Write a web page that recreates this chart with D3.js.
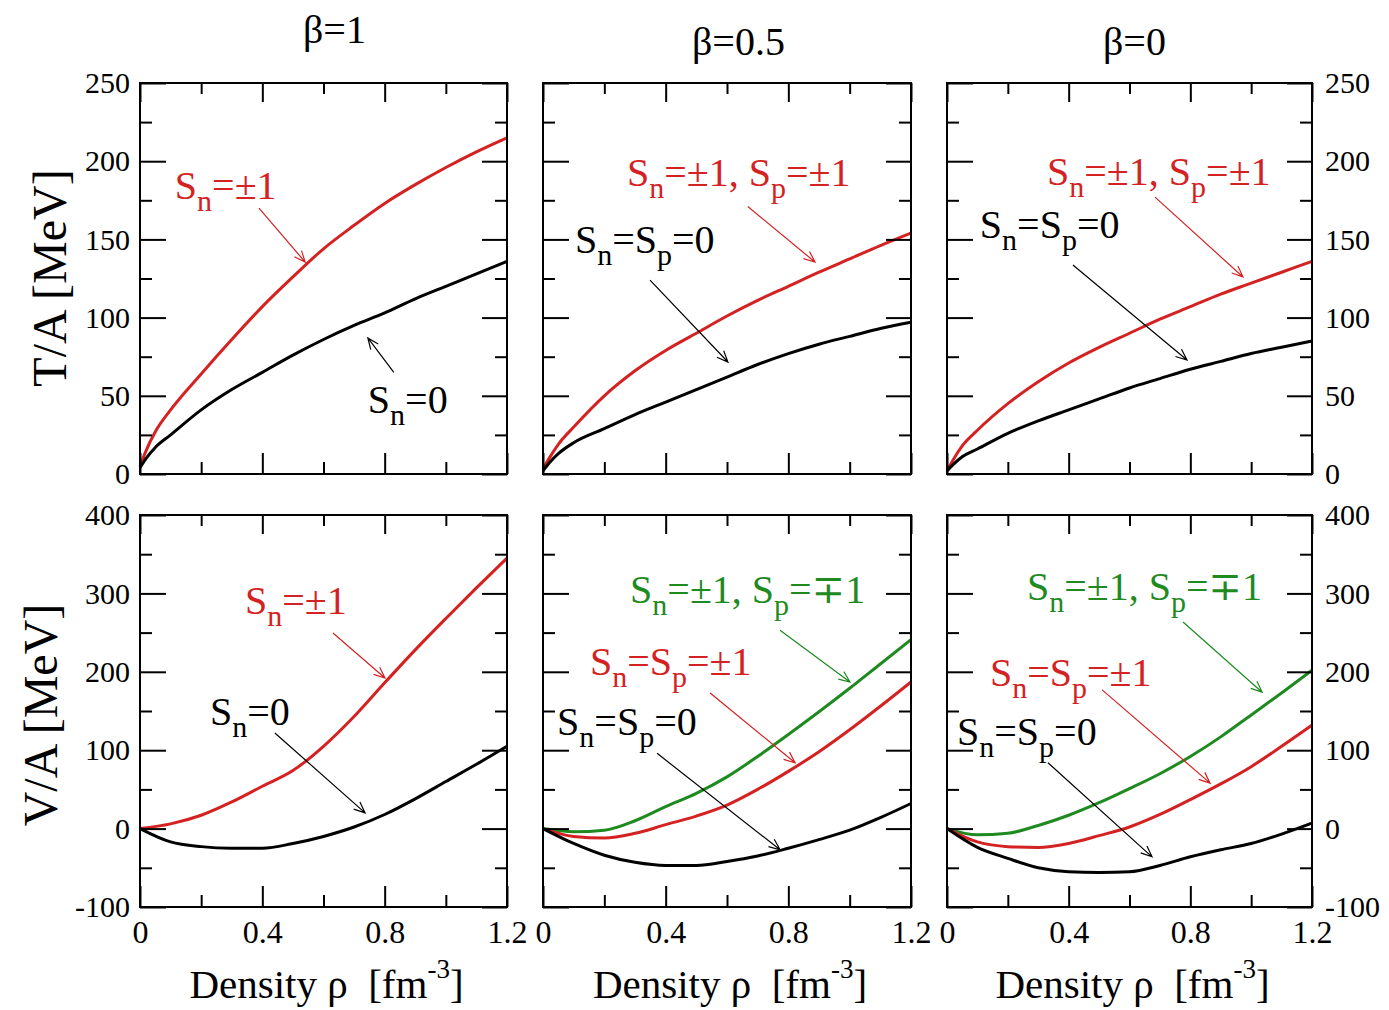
<!DOCTYPE html>
<html>
  <head>
    <meta charset="utf-8">
    <style>
      body { margin: 0; background: #fff; }
      text { font-family: "Liberation Serif", "Times New Roman", "DejaVu Serif", serif; }
    </style>
  </head>
  <body>
    <svg width="1389" height="1010"></svg>
    <script src="https://d3js.org/d3.v7.min.js"></script>
    <script>
      // density grids
      var rhoT = [0, 0.02, 0.05, 0.1, 0.2, 0.3, 0.4, 0.5, 0.6, 0.7, 0.8, 0.9, 1.0, 1.1, 1.2];
      var rhoV = [0, 0.1, 0.2, 0.3, 0.4, 0.5, 0.6, 0.7, 0.8, 0.9, 1.0, 1.1, 1.2];

      // kinetic energy T/A [MeV]
      var tB1Red    = [5, 15, 27, 41, 64, 86, 107, 126, 144, 159, 173, 185, 196, 206, 215];
      var tB1Black  = [4, 10, 17, 25, 41, 54, 65, 76, 86, 95, 103, 112, 120, 128, 136];
      var tB05Red   = [3, 10, 19, 30, 50, 66, 79, 90, 101, 111, 120, 129, 137.5, 146, 154];
      var tB05Black = [2, 7, 13, 20, 29, 38, 46, 54, 62, 70, 77, 83, 88, 93, 97];
      var tB0Red    = [2, 9, 18, 28, 45, 59, 71, 81, 90, 99, 107, 115, 122, 129, 136];
      var tB0Black  = [2, 6, 11, 16, 26, 34, 41, 48, 55, 61, 67, 72, 77, 81, 85];

      // potential energy V/A [MeV]
      var vB1Red     = [0, 6, 17, 34, 54, 74, 105, 143, 186, 228, 268, 307, 345];
      var vB1Black   = [0, -17, -23, -25, -25, -19, -10, 2, 18, 38, 60, 82, 105];
      var vB05Green  = [0, -4, -2, 10, 28, 45, 66, 92, 120, 149, 179, 210, 241];
      var vB05Red    = [0, -10, -12, -6, 5, 16, 30, 50, 73, 98, 126, 156, 187];
      var vB05Black  = [0, -19, -34, -43, -47, -47, -42, -35, -25, -14, -2, 14, 32];
      var vB0Green   = [0, -8, -6, 4, 17, 33, 51, 70, 92, 117, 145, 173, 202];
      var vB0Red     = [0, -17, -23, -24, -19, -9, 2, 18, 37, 57, 79, 105, 132];
      var vB0Black   = [0, -24, -38, -50, -55, -56, -55, -47, -36, -27, -19, -7, 7];

      var betaLabels = ["β=1", "β=0.5", "β=0"];
      var xTicks = [0, 0.4, 0.8, 1.2], xMinor = [0.2, 0.6, 1.0];
      var tTicks = [0, 50, 100, 150, 200, 250], tMinor = [25, 75, 125, 175, 225];
      var vTicks = [-100, 0, 100, 200, 300, 400], vMinor = [-50, 50, 150, 250, 350];

      var RED = "#d42222", GREEN = "#1f8a1f", BLACK = "#000";

      // label pieces: [text, isSubscript]
      var lblSn1 = [["S"], ["n", 1], ["=±1"]];
      var lblSn0 = [["S"], ["n", 1], ["=0"]];
      var lblSnSp1 = [["S"], ["n", 1], ["=±1, S"], ["p", 1], ["=±1"]];
      var lblSnSp0 = [["S"], ["n", 1], ["=S"], ["p", 1], ["=0"]];
      var lblAnti = [["S"], ["n", 1], ["=±1, S"], ["p", 1], ["=∓1"]];
      var lblSame = [["S"], ["n", 1], ["=S"], ["p", 1], ["=±1"]];

      // annotations in data units: label anchor, arrow start, arrow tip
      var notesT1 = [
        {parts: lblSn1, color: RED, at: [0.114, 176], from: [0.389, 170], to: [0.540, 135.5]},
        {parts: lblSn0, color: BLACK, at: [0.745, 39], from: [0.830, 65], to: [0.745, 87]}
      ];
      var notesT05 = [
        {parts: lblSnSp1, color: RED, at: [0.274, 184], from: [0.668, 171], to: [0.887, 135.5]},
        {parts: lblSnSp0, color: BLACK, at: [0.104, 141], from: [0.349, 124], to: [0.603, 71.6]}
      ];
      var notesT0 = [
        {parts: lblSnSp1, color: RED, at: [0.329, 185], from: [0.684, 177], to: [0.973, 126]},
        {parts: lblSnSp0, color: BLACK, at: [0.108, 151], from: [0.414, 133.6], to: [0.789, 72.9]}
      ];
      var notesV1 = [
        {parts: lblSn1, color: RED, at: [0.343, 274], from: [0.631, 249.5], to: [0.801, 192]},
        {parts: lblSn0, color: BLACK, at: [0.229, 132], from: [0.441, 122], to: [0.736, 20]}
      ];
      var notesV05 = [
        {parts: lblAnti, color: GREEN, at: [0.284, 288], from: [0.773, 253], to: [1.001, 187]},
        {parts: lblSame, color: RED, at: [0.153, 196], from: [0.545, 173], to: [0.822, 84]},
        {parts: lblSnSp0, color: BLACK, at: [0.046, 119], from: [0.372, 96], to: [0.773, -27]}
      ];
      var notesV0 = [
        {parts: lblAnti, color: GREEN, at: [0.263, 292], from: [0.776, 263.5], to: [1.036, 174]},
        {parts: lblSame, color: RED, at: [0.141, 182], from: [0.510, 177], to: [0.865, 58]},
        {parts: lblSnSp0, color: BLACK, at: [0.033, 107], from: [0.332, 84], to: [0.674, -36]}
      ];

      var FONT = "Liberation Serif, Times New Roman, DejaVu Serif, serif";
      var svg = d3.select("svg");
      var cols = [[140, 507], [543, 911], [947, 1312]];
      var rows = [[83, 474], [515, 907]];

      var panels = [
        {c: 0, r: 0, xs: rhoT, series: [[tB1Red, RED], [tB1Black, BLACK]], notes: notesT1},
        {c: 1, r: 0, xs: rhoT, series: [[tB05Red, RED], [tB05Black, BLACK]], notes: notesT05},
        {c: 2, r: 0, xs: rhoT, series: [[tB0Red, RED], [tB0Black, BLACK]], notes: notesT0},
        {c: 0, r: 1, xs: rhoV, series: [[vB1Red, RED], [vB1Black, BLACK]], notes: notesV1},
        {c: 1, r: 1, xs: rhoV, series: [[vB05Green, GREEN], [vB05Red, RED], [vB05Black, BLACK]], notes: notesV05},
        {c: 2, r: 1, xs: rhoV, series: [[vB0Green, GREEN], [vB0Red, RED], [vB0Black, BLACK]], notes: notesV0}
      ];

      function styleAxis(g, size) {
        g.select(".domain").remove();
        g.selectAll("line").attr("stroke", "#000").attr("stroke-width", 2);
        g.selectAll("text").attr("font-size", size).attr("font-family", FONT).attr("fill", "#000");
      }

      var fmtX = function(d) { return d === 0 ? "0" : d.toFixed(1); };
      var fmtY = function(d) { return String(d); };

      panels.forEach(function(p) {
        var x = d3.scaleLinear().domain([0, 1.2]).range(cols[p.c]);
        var y = d3.scaleLinear()
          .domain(p.r === 0 ? [0, 250] : [-100, 400])
          .range([rows[p.r][1], rows[p.r][0]]);
        var yMaj = p.r === 0 ? tTicks : vTicks;
        var yMin = p.r === 0 ? tMinor : vMinor;
        var x0 = cols[p.c][0], x1 = cols[p.c][1], y0 = rows[p.r][0], y1 = rows[p.r][1];
        var g = svg.append("g");

        // curves
        var line = d3.line()
          .x(function(d, i) { return x(p.xs[i]); })
          .y(function(d) { return y(d); })
          .curve(d3.curveMonotoneX);
        p.series.forEach(function(s) {
          g.append("path")
            .attr("d", line(s[0]))
            .attr("fill", "none")
            .attr("stroke", s[1])
            .attr("stroke-width", 3);
        });

        // ticks on all four sides, pointing inward
        g.append("g").attr("transform", "translate(0," + y1 + ")")
          .call(d3.axisBottom(x).tickValues(xTicks).tickSizeInner(-21).tickSizeOuter(0).tickPadding(13)
            .tickFormat(p.r === 1 ? fmtX : ""))
          .call(styleAxis, 32);
        g.append("g").attr("transform", "translate(0," + y1 + ")")
          .call(d3.axisBottom(x).tickValues(xMinor).tickSizeInner(-12).tickSizeOuter(0).tickFormat(""))
          .call(styleAxis, 32);
        g.append("g").attr("transform", "translate(0," + y0 + ")")
          .call(d3.axisTop(x).tickValues(xTicks).tickSizeInner(-19).tickSizeOuter(0).tickFormat(""))
          .call(styleAxis, 32);
        g.append("g").attr("transform", "translate(0," + y0 + ")")
          .call(d3.axisTop(x).tickValues(xMinor).tickSizeInner(-11).tickSizeOuter(0).tickFormat(""))
          .call(styleAxis, 32);
        g.append("g").attr("transform", "translate(" + x0 + ",0)")
          .call(d3.axisLeft(y).tickValues(yMaj).tickSizeInner(-26).tickSizeOuter(0).tickPadding(10)
            .tickFormat(p.c === 0 ? fmtY : ""))
          .call(styleAxis, 30);
        g.append("g").attr("transform", "translate(" + x0 + ",0)")
          .call(d3.axisLeft(y).tickValues(yMin).tickSizeInner(-12).tickSizeOuter(0).tickFormat(""))
          .call(styleAxis, 30);
        g.append("g").attr("transform", "translate(" + x1 + ",0)")
          .call(d3.axisRight(y).tickValues(yMaj).tickSizeInner(-25).tickSizeOuter(0).tickPadding(13)
            .tickFormat(p.c === 2 ? fmtY : ""))
          .call(styleAxis, 30);
        g.append("g").attr("transform", "translate(" + x1 + ",0)")
          .call(d3.axisRight(y).tickValues(yMin).tickSizeInner(-12).tickSizeOuter(0).tickFormat(""))
          .call(styleAxis, 30);

        // frame
        g.append("rect")
          .attr("x", x0).attr("y", y0)
          .attr("width", x1 - x0).attr("height", y1 - y0)
          .attr("fill", "none").attr("stroke", "#000").attr("stroke-width", 2);

        // annotations
        p.notes.forEach(function(n) {
          var t = g.append("text")
            .attr("x", x(n.at[0])).attr("y", y(n.at[1]))
            .attr("font-size", 40)
            .attr("fill", n.color);
          var down = false;
          n.parts.forEach(function(part) {
            var sub = !!part[1];
            var dy = sub && !down ? 12 : (!sub && down ? -12 : 0);
            down = sub;
            t.append("tspan").attr("dy", dy).attr("font-size", sub ? 30 : 40).text(part[0]);
          });

          var ax = x(n.from[0]), ay = y(n.from[1]), bx = x(n.to[0]), by = y(n.to[1]);
          var ang = Math.atan2(by - ay, bx - ax), L = 12, spread = 0.4;
          var arrow = d3.path();
          arrow.moveTo(ax, ay); arrow.lineTo(bx, by);
          arrow.moveTo(bx - L * Math.cos(ang - spread), by - L * Math.sin(ang - spread));
          arrow.lineTo(bx, by);
          arrow.lineTo(bx - L * Math.cos(ang + spread), by - L * Math.sin(ang + spread));
          g.append("path")
            .attr("d", arrow.toString())
            .attr("fill", "none")
            .attr("stroke", n.color)
            .attr("stroke-width", 1.2);
        });
      });

      // column titles
      var titleSpots = [[303, 43], [692, 55], [1103, 55]];
      betaLabels.forEach(function(b, i) {
        svg.append("text")
          .attr("x", titleSpots[i][0]).attr("y", titleSpots[i][1])
          .attr("font-size", 40)
          .text(b);
      });

      // x axis titles
      cols.forEach(function(c) {
        var t = svg.append("text")
          .attr("x", (c[0] + c[1]) / 2 + 3).attr("y", 998)
          .attr("text-anchor", "middle")
          .attr("font-size", 41)
          .attr("xml:space", "preserve");
        t.append("tspan").text("Density ρ  [fm");
        t.append("tspan").attr("dy", -20).attr("font-size", 27).text("-3");
        t.append("tspan").attr("dy", 20).text("]");
      });

      // y axis titles
      svg.append("text")
        .attr("transform", "translate(66,278) rotate(-90)")
        .attr("text-anchor", "middle")
        .attr("font-size", 48)
        .text("T/A [MeV]");
      svg.append("text")
        .attr("transform", "translate(57,715) rotate(-90)")
        .attr("text-anchor", "middle")
        .attr("font-size", 48)
        .text("V/A [MeV]");
    </script>
  </body>
</html>
